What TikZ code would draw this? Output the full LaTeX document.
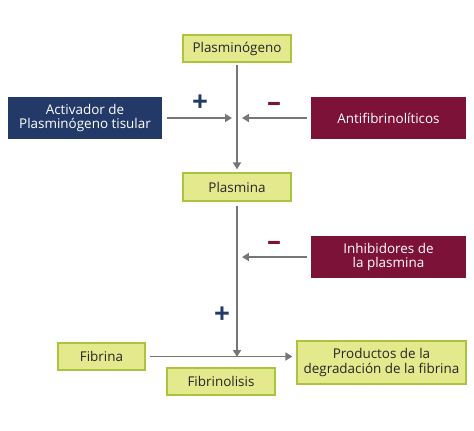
\documentclass[tikz,border=0pt]{standalone}
\usepackage{fontspec}
\setmainfont{Open Sans}
\usetikzlibrary{arrows.meta}

\definecolor{boxfill}{HTML}{E3E98C}
\definecolor{boxline}{HTML}{A9C53E}
\definecolor{actblue}{HTML}{233A69}
\definecolor{inhred}{HTML}{7D1238}
\definecolor{arrowgray}{HTML}{767676}

\tikzset{
  step box/.style={draw=boxline, fill=boxfill, line width=1.3pt, inner sep=0pt,
    align=center, text=black!85, font=\fontsize{13.5}{15}\selectfont},
  act box/.style={fill=actblue, text=white, inner sep=0pt, align=center,
    font=\fontsize{13.5}{15}\selectfont},
  inh box/.style={fill=inhred, text=white, inner sep=0pt, align=center,
    font=\fontsize{13.5}{15}\selectfont},
  flow/.style={draw=arrowgray, line width=1.8pt,
    -{Triangle[width=8pt,length=7pt]}},
  sign/.style={font=\fontsize{28}{28}\selectfont\bfseries, inner sep=0pt}
}

\begin{document}
\begin{tikzpicture}[x=1bp,y=-1bp]
    \useasboundingbox (0,0) rectangle (474,430);

    % Main chain
    \node [step box, minimum width=108bp, minimum height=27bp] (plg) at (237,48.5) {Plasminógeno};
    \node [step box, minimum width=108bp, minimum height=28bp] (pla) at (237,187) {Plasmina};

    % Activator and inhibitors
    \node [act box, minimum width=154bp, minimum height=42bp] (tpa) at (85,118)
        {Activador de\\Plasminógeno tisular};
    \node [inh box, minimum width=155bp, minimum height=42bp] (afib) at (388.5,118) {Antifibrinolíticos};
    \node [inh box, minimum width=155bp, minimum height=42bp] (inh) at (388.5,257)
        {Inhibidores de\\la plasmina};

    % Bottom row
    \node [step box, minimum width=87bp, minimum height=27bp] (fib) at (101.5,356.5) {Fibrina};
    \node [step box, minimum width=108bp, minimum height=27bp] (lys) at (221,381.5) {Fibrinolisis};
    \node [step box, minimum width=169bp, minimum height=43bp] (pdf) at (381.5,362.5)
        {Productos de la\\degradación de la fibrina};

    % Points where the side arrows meet the vertical lines
    \coordinate (m1) at (237,118);
    \coordinate (m2) at (237,257);
    \coordinate (m3) at (237,362);

    % Arrows
    \draw [flow, shorten <=2bp, shorten >=3bp] (plg) -- (pla);
    \draw [flow, shorten <=5bp, shorten >=5bp] (tpa) -- (m1);
    \draw [flow, shorten <=4bp, shorten >=5bp] (afib) -- (m1);
    \draw [flow, shorten <=4bp, shorten >=5bp] (pla) -- (m3);
    \draw [flow, shorten <=4bp, shorten >=5bp] (inh) -- (m2);
    \draw [flow, shorten <=4bp, shorten >=4bp] (fib) -- (pdf.west |- fib);

    % Signs
    \node [sign, text=actblue] (p1) at (200,103) {+};
    \node [sign, text=inhred] (n1) at (274,107) {\textbf{–}};
    \node [sign, text=inhred] (n2) at (274,246) {\textbf{–}};
    \node [sign, text=actblue] (p2) at (222,315) {+};
\end{tikzpicture}
\end{document}
